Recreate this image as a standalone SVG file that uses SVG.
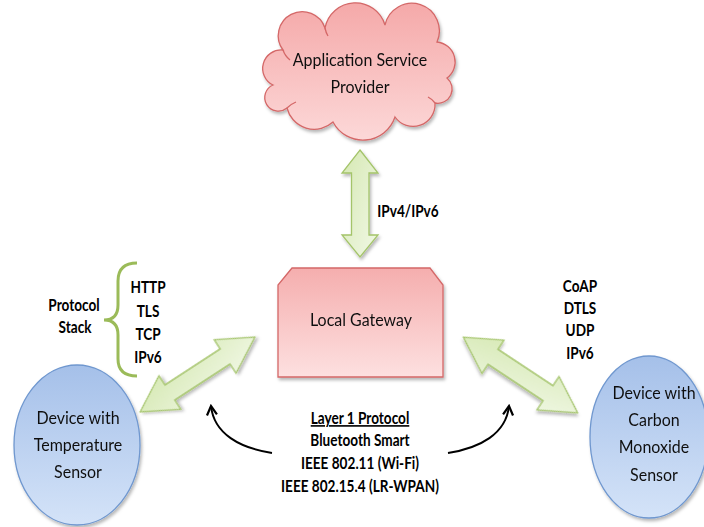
<svg xmlns="http://www.w3.org/2000/svg" width="704" height="527" viewBox="0 0 704 527">
  <style>
    .body { font-family: Lato, "Liberation Sans", sans-serif; font-size: 16px; fill: #111; text-anchor: middle; }
    .lbl { font-family: Lato, "Liberation Sans", sans-serif; font-size: 13.6px; font-weight: bold; fill: #000; text-anchor: middle; }
    .pink { stroke: #d46767; stroke-width: 1.3; }
    .blue { fill: url(#gBlue); stroke: #6f97cf; stroke-width: 1.3; }
    .green { fill: url(#gGreen); stroke: #a4c46a; stroke-width: 1.3; stroke-linejoin: miter; }
    .curve { fill: none; stroke: #000; stroke-width: 2; marker-end: url(#open); }
  </style>
  <defs>
    <linearGradient id="gPink" x1="0" y1="0" x2="0" y2="1">
      <stop offset="0" stop-color="#f5a9a9"/>
      <stop offset="1" stop-color="#fcd8d8"/>
    </linearGradient>
    <linearGradient id="gGate" x1="0" y1="0" x2="0" y2="1">
      <stop offset="0" stop-color="#f5aeae"/>
      <stop offset="1" stop-color="#fde0e0"/>
    </linearGradient>
    <linearGradient id="gBlue" x1="0" y1="0" x2="0" y2="1">
      <stop offset="0" stop-color="#a5c0e9"/>
      <stop offset="1" stop-color="#d4e3f8"/>
    </linearGradient>
    <linearGradient id="gGreen" x1="0" y1="0" x2="1" y2="1">
      <stop offset="0" stop-color="#d5e8b2"/>
      <stop offset="1" stop-color="#f1f8e6"/>
    </linearGradient>
    <filter id="shadow" x="-20%" y="-20%" width="140%" height="140%">
      <feDropShadow dx="1.5" dy="2.5" stdDeviation="1.8" flood-color="#000" flood-opacity="0.28"/>
    </filter>
    <marker id="open" viewBox="0 0 12 12" refX="10" refY="6" markerWidth="12" markerHeight="12" markerUnits="userSpaceOnUse" orient="auto">
      <path d="M1,1 L10,6 L1,11" fill="none" stroke="#000" stroke-width="2.2"/>
    </marker>
    <!-- double-headed block arrow, centred on the origin, pointing along x -->
    <path id="dblArrow" d="M-68.5,0 L-33,-20 L-33,-9 L33,-9 L33,-20 L68.5,0 L33,20 L33,9 L-33,9 L-33,20 Z"/>
  </defs>

  <!-- nodes -->
  <g id="asp" filter="url(#shadow)">
    <path class="pink" fill="url(#gPink)" d="M283,50 A24,24 0 1 1 325,28 A30.9,30.9 0 0 1 385,25 A27.5,27.5 0 1 1 437,42 A20,20 0 0 1 447,78 A14.3,14.3 0 0 1 435,103 A22,22 0 0 1 395,117 A33.8,33.8 0 0 1 333,122 A28,28 0 0 1 287,108 A13.6,13.6 0 1 1 273,85 A18.5,18.5 0 0 1 283,50 Z"/>
    <path fill="none" class="pink" d="M283,50 Q285,56 290,60 M325,28 Q326,33 328,36 M435,103 Q432,99 428,97 M287,108 Q291,104 296,102"/>
    <g transform="translate(360,66) scale(1,1.1)"><text class="body">Application Service</text></g>
    <g transform="translate(360,93) scale(1,1.1)"><text class="body">Provider</text></g>
  </g>

  <g id="gateway" filter="url(#shadow)">
    <path class="pink" fill="url(#gGate)" d="M292,268 L430,268 L443,285 L443,377 L278,377 L278,285 Z"/>
    <g transform="translate(361,326) scale(1,1.1)"><text class="body">Local Gateway</text></g>
  </g>

  <g id="tempSensor" filter="url(#shadow)">
    <ellipse class="blue" cx="77" cy="445" rx="63" ry="80"/>
    <g transform="translate(78,424) scale(1,1.1)"><text class="body">Device with</text></g>
    <g transform="translate(78,451) scale(1,1.1)"><text class="body">Temperature</text></g>
    <g transform="translate(78,478) scale(1,1.1)"><text class="body">Sensor</text></g>
  </g>

  <g id="coSensor" filter="url(#shadow)">
    <ellipse class="blue" cx="649" cy="437" rx="59" ry="81"/>
    <g transform="translate(654,399) scale(1,1.1)"><text class="body">Device with</text></g>
    <g transform="translate(654,426) scale(1,1.1)"><text class="body">Carbon</text></g>
    <g transform="translate(654,453) scale(1,1.1)"><text class="body">Monoxide</text></g>
    <g transform="translate(654,481) scale(1,1.1)"><text class="body">Sensor</text></g>
  </g>

  <!-- connectors -->
  <g id="connectors">
    <path class="green" filter="url(#shadow)" d="M360,150 L378,173 L369,173 L369,235 L378,235 L360,257 L342,235 L351.5,235 L351.5,173 L342,173 Z"/>
    <use href="#dblArrow" class="green" filter="url(#shadow)" transform="translate(197.5,374.5) rotate(-33.1)"/>
    <use href="#dblArrow" class="green" filter="url(#shadow)" transform="translate(520.5,375) rotate(33.5)"/>
    <path class="curve" d="M272,453 C240,448 214,434 211,406"/>
    <path class="curve" d="M448,453 C480,448 506,434 509,406"/>
  </g>

  <!-- protocol labels -->
  <g id="labels">
    <g transform="translate(408,217) scale(1,1.2)"><text class="lbl">IPv4/IPv6</text></g>

    <path d="M137,263 Q118,263 118,281 L118,305 Q118,320 104,320 Q118,320 118,335 L118,359 Q118,376 137,376" fill="none" stroke="#9bbb59" stroke-width="3"/>
    <g transform="translate(74,311) scale(1,1.2)"><text class="lbl">Protocol</text></g>
    <g transform="translate(75,333) scale(1,1.2)"><text class="lbl">Stack</text></g>
    <g transform="translate(148,293) scale(1,1.2)"><text class="lbl">HTTP</text></g>
    <g transform="translate(148,317) scale(1,1.2)"><text class="lbl">TLS</text></g>
    <g transform="translate(148,340) scale(1,1.2)"><text class="lbl">TCP</text></g>
    <g transform="translate(148,363) scale(1,1.2)"><text class="lbl">IPv6</text></g>

    <g transform="translate(580,292) scale(1,1.2)"><text class="lbl">CoAP</text></g>
    <g transform="translate(580,314) scale(1,1.2)"><text class="lbl">DTLS</text></g>
    <g transform="translate(580,336) scale(1,1.2)"><text class="lbl">UDP</text></g>
    <g transform="translate(580,359) scale(1,1.2)"><text class="lbl">IPv6</text></g>

    <g transform="translate(360,424) scale(1,1.2)"><text class="lbl" text-decoration="underline">Layer 1 Protocol</text></g>
    <g transform="translate(360,446) scale(1,1.2)"><text class="lbl">Bluetooth Smart</text></g>
    <g transform="translate(360,469) scale(1,1.2)"><text class="lbl">IEEE 802.11 (Wi-Fi)</text></g>
    <g transform="translate(360,492) scale(1,1.2)"><text class="lbl">IEEE 802.15.4 (LR-WPAN)</text></g>
  </g>
</svg>
